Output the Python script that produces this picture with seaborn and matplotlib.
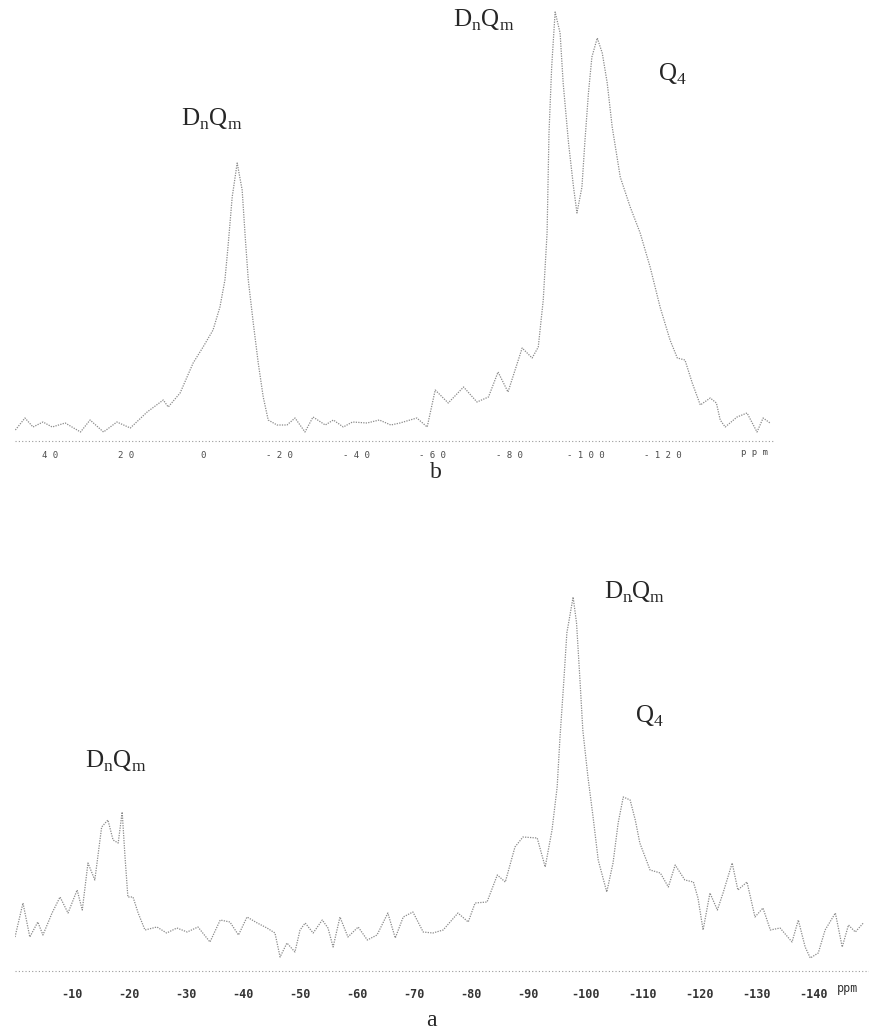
import numpy as np
import pandas as pd
import matplotlib
matplotlib.use("Agg")
import matplotlib.pyplot as plt
import seaborn as sns

sns.set_style("white")
plt.rcParams['font.family'] = ['Liberation Serif', 'DejaVu Serif']
plt.rcParams['mathtext.fontset'] = 'custom'
plt.rcParams['mathtext.rm'] = 'Liberation Serif'

# spectrum b (top), ppm vs. intensity (arbitrary units)
ppm_b = [49, 46.5, 44.4, 41.8, 39.4, 36, 32, 29.5, 26, 22.5, 19, 14.6, 10.4, 9.1, 6,
         2.6, 0, -2.6, -4.4, -5.7, -6.5, -7.6, -8.9, -10.2, -11, -11.8, -13.1, -14.4,
         -15.7, -17, -19.3, -21.9, -24, -26.6, -28.7, -31.9, -34, -36.6, -39, -42.8,
         -46, -49, -51.4, -55.8, -58.5, -60.6, -64, -68, -71.5, -74.5, -77, -79.6,
         -83.3, -85.9, -87.5, -88.8, -89.8, -90.3, -91, -91.9, -93.2, -94, -95.4,
         -96.7, -97.6, -98.9, -99.7, -100.6, -101.5, -102.9, -104.2, -105.5, -106.8,
         -108.9, -111.5, -114.1, -116.7, -119.3, -121.9, -123.8, -125.8, -127.7,
         -129.8, -132.4, -134, -135, -136.3, -139.4, -142, -144.6, -146.2, -148]
int_b = [11, 23, 14, 19, 14, 18, 9, 21, 9, 19, 13, 29, 41, 34, 48,
         78, 94, 111, 134, 161, 194, 244, 278, 251, 204, 161, 118, 78,
         44, 21, 16, 16, 23, 9, 24, 16, 21, 14, 19, 18,
         21, 16, 18, 23, 14, 51, 38, 54, 39, 44, 69, 49,
         93, 83, 94, 141, 208, 308, 374, 429, 408, 358, 298,
         254, 228, 254, 301, 348, 384, 403, 388, 358, 314,
         264, 234, 208, 174, 134, 101, 83, 81, 58,
         36, 43, 38, 21, 14, 24, 28, 9, 23, 18]

# spectrum a (bottom)
ppm_a = [0, -1.4, -2.6, -4, -4.9, -6.5, -7.9, -9.3, -10.9, -11.8, -12.8, -14, -15.2,
         -16.3, -17.2, -18.1, -18.8, -19.3, -19.8, -20.7, -21.6, -22.8, -24.9, -26.6,
         -28.4, -30.2, -32.1, -34.2, -36, -37.7, -39.2, -40.7, -42.5, -44.2, -45.6,
         -46.5, -47.7, -49.1, -50, -50.9, -52.3, -53.9, -54.9, -55.8, -57, -58.4,
         -60.2, -61.8, -63.5, -65.4, -66.7, -68.1, -69.8, -71.6, -73.3, -75.1, -77.7,
         -79.5, -80.7, -82.8, -84.6, -86, -87.7, -89.1, -91.6, -93, -94.2, -95.1,
         -95.6, -96.2, -96.8, -97.9, -98.5, -99.1, -99.6, -100.5, -101.4, -102.3,
         -103.8, -104.9, -105.8, -106.7, -107.9, -108.8, -109.6, -111.4, -113.2,
         -114.6, -115.8, -117.5, -119, -119.8, -120.7, -121.9, -123.2, -124.2,
         -125.8, -126.8, -128.4, -129.8, -131.2, -132.5, -134.2, -136.3, -137.4,
         -138.6, -139.5, -140.9, -142.1, -143.9, -145.1, -146.2, -147.4, -148.8]
int_a = [34, 68, 34, 49, 36, 58, 74, 58, 81, 61, 108, 91, 144,
         151, 131, 128, 159, 114, 74, 74, 58, 41, 44, 38,
         43, 39, 44, 29, 51, 49, 36, 54, 48, 43, 38,
         14, 28, 19, 41, 48, 38, 51, 43, 24, 54, 34,
         44, 31, 36, 58, 33, 54, 59, 39, 38, 41, 58,
         49, 68, 69, 96, 89, 124, 134, 133, 104, 141, 184,
         234, 284, 338, 374, 348, 291, 241, 194, 154, 111,
         79, 108, 148, 174, 171, 151, 128, 101, 98,
         84, 106, 91, 89, 73, 41, 78, 61, 78,
         108, 81, 89, 54, 63, 41, 43, 29, 51,
         24, 13, 18, 41, 58, 24, 46, 39, 48]

ticks_b = [40, 20, 0, -20, -40, -60, -80, -100, -120]
ticks_a = [-10, -20, -30, -40, -50, -60, -70, -80, -90, -100, -110, -120, -130, -140]

W, H = 869, 1034
fig = plt.figure(figsize=(W / 100, H / 100), dpi=100)

def px_axes(x0, y0, x1, y1):
    return fig.add_axes([x0 / W, 1 - y1 / H, (x1 - x0) / W, (y1 - y0) / H])

trace_kw = dict(color='#8a8a8a', linewidth=0.9, linestyle=(0, (1, 1)))

ax_b = px_axes(15, 0, 775, 441)
sns.lineplot(x=ppm_b, y=int_b, ax=ax_b, sort=False, **trace_kw)
ax_b.set_xlim(49.1, -149.3)
ax_b.set_ylim(0, 441)

ax_a = px_axes(15, 560, 869, 971)
sns.lineplot(x=ppm_a, y=int_a, ax=ax_a, sort=False, **trace_kw)
ax_a.set_xlim(0, -149.8)
ax_a.set_ylim(0, 411)

for ax in (ax_b, ax_a):
    for s in ax.spines.values():
        s.set_visible(False)
    ax.set_yticks([])
    ax.set_xlabel('')
    ax.set_ylabel('')
    ax.axhline(0, color='#9a9a9a', linewidth=0.8, linestyle=(0, (1, 2)), clip_on=False)
    ax.tick_params(axis='x', length=0)

ax_b.set_xticks(ticks_b)
ax_b.set_xticklabels([' '.join(str(t)) for t in ticks_b],
                     fontfamily='DejaVu Sans Mono', fontsize=6.5, color='#4a4a4a')
ax_b.tick_params(axis='x', pad=7)
ax_b.text(-144, -7, 'p p m', ha='center', va='top',
          fontfamily='DejaVu Sans Mono', fontsize=6.5, color='#4a4a4a')

ax_a.set_xticks(ticks_a)
ax_a.set_xticklabels([str(t) for t in ticks_a], fontfamily='DejaVu Sans Mono',
                     fontsize=8.5, fontweight='bold', color='#333333')
ax_a.tick_params(axis='x', pad=12)
ax_a.text(-146.1, -11, 'ppm', ha='center', va='top', fontfamily='DejaVu Sans Mono',
          fontsize=8.5, color='#333333')

lab = r'D$_\mathrm{n}$Q$_\mathrm{m}$'
lab_dot = r'D$_{\mathrm{n}\!.\!\!}$Q$_\mathrm{m}$'
q4 = r'Q$_\mathrm{4}$'
fs = 18
fig.text(212 / W, 1 - 119 / H, lab, ha='center', va='center', fontsize=fs)
fig.text(484 / W, 1 - 20 / H, lab, ha='center', va='center', fontsize=fs)
fig.text(672 / W, 1 - 74 / H, q4, ha='center', va='center', fontsize=fs)
fig.text(116 / W, 1 - 761 / H, lab, ha='center', va='center', fontsize=fs)
fig.text(634 / W, 1 - 592 / H, lab_dot, ha='center', va='center', fontsize=fs)
fig.text(649 / W, 1 - 716 / H, q4, ha='center', va='center', fontsize=fs)
fig.text(436 / W, 1 - 473 / H, 'b', ha='center', va='center', fontsize=17)
fig.text(431 / W, 1 - 1021 / H, 'a', ha='center', va='center', fontsize=17)

fig.savefig('out.png', dpi=100)
